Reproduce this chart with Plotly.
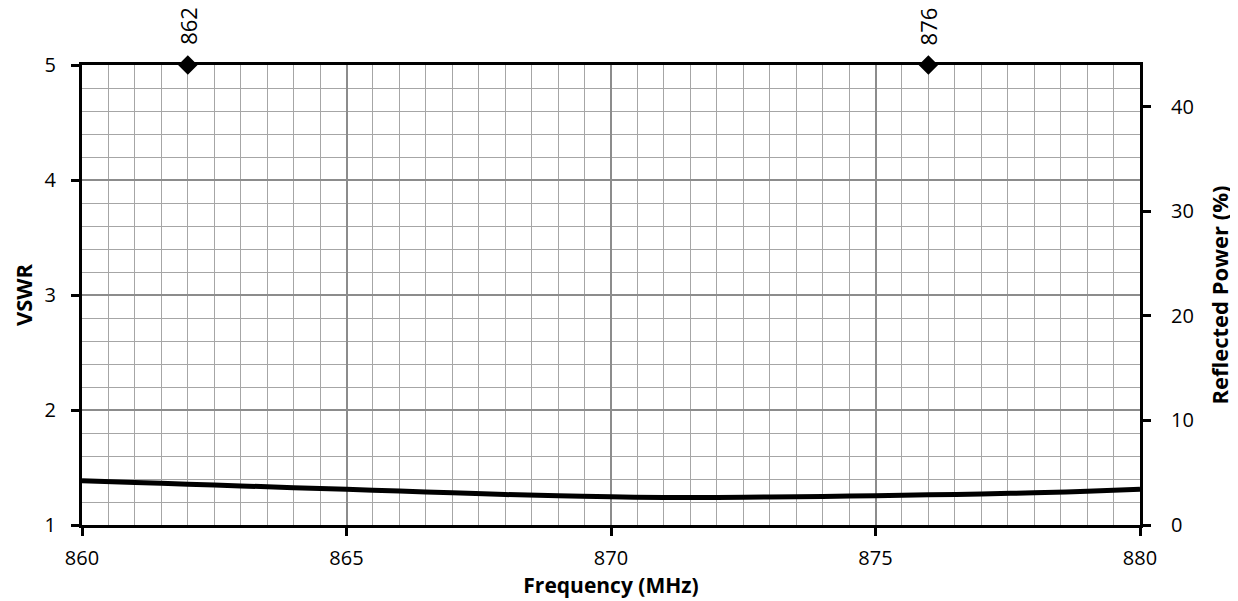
import plotly.graph_objects as go

# Data
freq_mhz = [860, 861, 862, 863, 864, 865, 866, 867, 868, 869, 870, 871, 872, 873, 874, 875, 876, 877, 878, 879, 880]
vswr = [1.385, 1.37, 1.355, 1.34, 1.325, 1.31, 1.295, 1.28, 1.265, 1.255, 1.245, 1.24, 1.24, 1.243, 1.248, 1.255, 1.262, 1.27, 1.28, 1.293, 1.31]
band_edges = [862, 876]
band_marker_vswr = [5, 5]
band_labels = ["862", "876"]

FONT = "Open Sans"
fig = go.Figure()
fig.add_trace(go.Scatter(x=freq_mhz, y=vswr, mode="lines", line=dict(color="black", width=5, shape="spline"),
                         showlegend=False, hoverinfo="skip"))
fig.add_trace(go.Scatter(x=band_edges, y=band_marker_vswr, mode="markers",
                         marker=dict(symbol="diamond", size=15, color="black"),
                         cliponaxis=False, showlegend=False))
fig.add_trace(go.Scatter(x=[], y=[], yaxis="y2", showlegend=False))

for x, y, t in zip(band_edges, band_marker_vswr, band_labels):
    fig.add_annotation(x=x, y=y, text=t, textangle=-90, showarrow=False, yanchor="bottom",
                       yshift=18, font=dict(family=FONT, size=22, color="black"))

fig.update_layout(
    width=1230, height=593,
    margin=dict(l=74, r=98, t=57, b=76, autoexpand=False),
    plot_bgcolor="white", paper_bgcolor="white",
    font=dict(family=FONT, size=20, color="black"),
    xaxis=dict(range=[860, 880], dtick=5, tick0=860, showgrid=True, gridcolor="#8c8c8c", gridwidth=2,
               minor=dict(dtick=0.5, showgrid=True, gridcolor="#a6a6a6", gridwidth=1),
               showline=True, linecolor="black", linewidth=3, mirror=True, automargin=False,
               ticks="outside", ticklen=8, tickwidth=3, tickcolor="black", zeroline=False,
               ticklabelstandoff=5,
               title=dict(text="<b>Frequency (MHz)</b>", font=dict(size=21), standoff=0)),
    yaxis=dict(range=[1, 5], dtick=1, tick0=1, showgrid=True, gridcolor="#8c8c8c", gridwidth=2,
               minor=dict(dtick=0.2, showgrid=True, gridcolor="#a6a6a6", gridwidth=1),
               showline=True, linecolor="black", linewidth=3, automargin=False,
               ticks="outside", ticklen=8, tickwidth=3, tickcolor="black", zeroline=False,
               ticklabelstandoff=11,
               title=dict(text="<b>VSWR</b>", font=dict(size=22), standoff=25)),
    yaxis2=dict(range=[0, 44], dtick=10, tick0=0, overlaying="y", side="right", showgrid=False,
                showline=True, linecolor="black", linewidth=3, zeroline=False, automargin=False,
                ticks="outside", ticklen=8, tickwidth=3, tickcolor="black",
                ticklabelstandoff=16,
                title=dict(text="<b>Reflected Power (%)</b>", font=dict(size=22), standoff=20)),
)

fig.write_html("out.html")
